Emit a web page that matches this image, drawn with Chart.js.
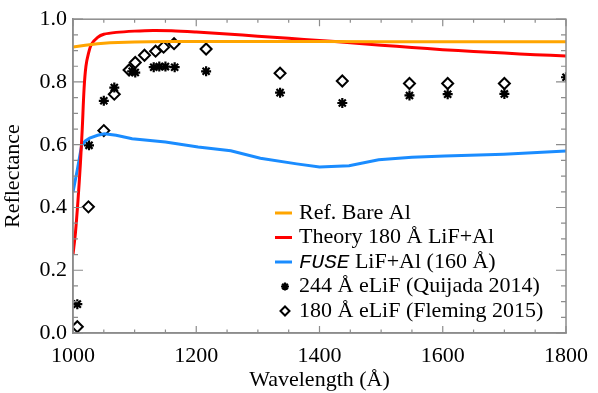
<!DOCTYPE html>
<html>
<head>
<meta charset="utf-8">
<script src="https://cdn.jsdelivr.net/npm/chart.js@4/dist/chart.umd.min.js"></script>
<style>
  html, body { margin: 0; padding: 0; background: #fff; }
  #wrap { width: 598px; height: 393px; }
</style>
</head>
<body>
<div id="wrap"><canvas id="chart"></canvas></div>
<script>
// reflectance curves (wavelength in Angstrom)
const bareAlWave = [1000, 1020, 1040, 1060, 1100, 1150, 1200, 1300, 1400, 1500, 1600, 1700, 1800];
const bareAlRefl = [0.911, 0.917, 0.922, 0.925, 0.927, 0.929, 0.929, 0.929, 0.929, 0.928, 0.928, 0.928, 0.928];

const theoryWave = [1000, 1004, 1008, 1012, 1015, 1018, 1021, 1025, 1030, 1040, 1050, 1070, 1100, 1130, 1160, 1200, 1250, 1300, 1350, 1400, 1450, 1500, 1550, 1600, 1650, 1700, 1750, 1800];
const theoryRefl = [0.25, 0.32, 0.42, 0.54, 0.65, 0.78, 0.85, 0.89, 0.92, 0.942, 0.952, 0.958, 0.962, 0.964, 0.963, 0.959, 0.953, 0.946, 0.939, 0.932, 0.925, 0.917, 0.910, 0.903, 0.897, 0.892, 0.887, 0.883];

const fuseWave = [1000, 1007, 1014, 1020, 1027, 1040, 1051, 1070, 1096, 1150, 1203, 1256, 1304, 1363, 1400, 1448, 1496, 1550, 1603, 1699, 1800];
const fuseRefl = [0.449, 0.52, 0.598, 0.612, 0.621, 0.63, 0.635, 0.63, 0.619, 0.609, 0.593, 0.581, 0.557, 0.539, 0.529, 0.533, 0.552, 0.560, 0.564, 0.570, 0.580];

// measured samples
const quijadaWave = [1007, 1026, 1050, 1067, 1096, 1101, 1131, 1140, 1150, 1165, 1216, 1336, 1437, 1546, 1608, 1700, 1800];
const quijadaRefl = [0.092, 0.598, 0.740, 0.782, 0.834, 0.830, 0.847, 0.849, 0.849, 0.847, 0.834, 0.766, 0.733, 0.757, 0.761, 0.762, 0.815];

const flemingWave = [1007, 1025, 1050, 1067, 1091, 1101, 1116, 1134, 1147, 1164, 1216, 1336, 1437, 1546, 1608, 1700];
const flemingRefl = [0.02, 0.402, 0.645, 0.761, 0.838, 0.862, 0.885, 0.898, 0.911, 0.922, 0.905, 0.828, 0.803, 0.795, 0.795, 0.795];

const xTicks = [1000, 1200, 1400, 1600, 1800];
const yTicks = [0.0, 0.2, 0.4, 0.6, 0.8, 1.0];

const legendLabels = [
    'Ref. Bare Al',
    'Theory 180 Å LiF+Al',
    'FUSE LiF+Al (160 Å)',
    '244 Å eLiF (Quijada 2014)',
    '180 Å eLiF (Fleming 2015)'
];

const serif = '"Liberation Serif", "DejaVu Serif", serif';
const axisGray = '#8c8c8c';

function toPoints(xs, ys) {
    return xs.map((x, i) => ({ x: x, y: ys[i] }));
}

// IDL-style inward ticks on all four sides + frame
const frameTicks = {
    id: 'frameTicks',
    afterDraw(chart) {
        const ctx = chart.ctx;
        const a = chart.chartArea;
        const xs = chart.scales.x;
        const ys = chart.scales.y;
        ctx.save();
        ctx.strokeStyle = axisGray;
        ctx.lineWidth = 1.5;
        ctx.strokeRect(a.left, a.top, a.right - a.left, a.bottom - a.top);
        ctx.lineWidth = 1.2;
        ctx.beginPath();
        for (let v = xs.min; v <= xs.max + 1e-6; v += 50) {
            const px = xs.getPixelForValue(v);
            const len = (v % 200 === 0) ? 7 : 3.5;
            ctx.moveTo(px, a.bottom); ctx.lineTo(px, a.bottom - len);
            ctx.moveTo(px, a.top); ctx.lineTo(px, a.top + len);
        }
        for (let i = 0; i <= 20; i++) {
            const v = i * 0.05;
            const py = ys.getPixelForValue(v);
            const len = (i % 4 === 0) ? 10 : 5;
            ctx.moveTo(a.left, py); ctx.lineTo(a.left + len, py);
            ctx.moveTo(a.right, py); ctx.lineTo(a.right - len, py);
        }
        ctx.stroke();
        ctx.restore();
    }
};

// legend inside the plot, lower right
const insideLegend = {
    id: 'insideLegend',
    afterDraw(chart) {
        const ctx = chart.ctx;
        const x0 = 275, textX = 299;
        let y = 213;
        ctx.save();
        ctx.textBaseline = 'middle';
        chart.data.datasets.forEach((ds, i) => {
            if (ds.showLine) {
                ctx.strokeStyle = ds.borderColor;
                ctx.lineWidth = 3;
                ctx.beginPath();
                ctx.moveTo(x0, y); ctx.lineTo(x0 + 17, y);
                ctx.stroke();
            } else {
                ctx.fillStyle = ds.backgroundColor;
                ctx.strokeStyle = ds.borderColor;
                ctx.lineWidth = ds.borderWidth;
                Chart.helpers.drawPoint(ctx, {
                    pointStyle: ds.pointStyle,
                    radius: ds.pointRadius - 1,
                    borderWidth: ds.borderWidth,
                    rotation: 0
                }, x0 + 10, y);
            }
            ctx.fillStyle = '#000';
            const label = legendLabels[i];
            if (label.startsWith('FUSE')) {
                ctx.font = 'italic 21px "Liberation Mono", "DejaVu Sans Mono", monospace';
                ctx.fillText('FUSE', textX, y);
                const w = ctx.measureText('FUSE').width;
                ctx.font = '22px ' + serif;
                ctx.fillText(label.slice(4), textX + w, y);
            } else {
                ctx.font = '22px ' + serif;
                ctx.fillText(label, textX, y);
            }
            y += 24.5;
        });
        ctx.restore();
    }
};

new Chart(document.getElementById('chart'), {
    type: 'scatter',
    data: {
        datasets: [
            {
                label: legendLabels[0],
                data: toPoints(bareAlWave, bareAlRefl),
                showLine: true,
                borderColor: '#ffa500',
                borderWidth: 3,
                pointRadius: 0,
                tension: 0
            },
            {
                label: legendLabels[1],
                data: toPoints(theoryWave, theoryRefl),
                showLine: true,
                borderColor: '#ff0000',
                borderWidth: 3,
                pointRadius: 0,
                tension: 0.3
            },
            {
                label: legendLabels[2],
                data: toPoints(fuseWave, fuseRefl),
                showLine: true,
                borderColor: '#1a8cff',
                borderWidth: 3,
                pointRadius: 0,
                tension: 0
            },
            {
                label: legendLabels[3],
                data: toPoints(quijadaWave, quijadaRefl),
                showLine: false,
                pointStyle: 'star',
                pointRadius: 5,
                borderColor: '#000',
                backgroundColor: '#000',
                borderWidth: 2.2,
                clip: 0
            },
            {
                label: legendLabels[4],
                data: toPoints(flemingWave, flemingRefl),
                showLine: false,
                pointStyle: 'rectRot',
                pointRadius: 5.5,
                borderColor: '#000',
                backgroundColor: '#fff',
                borderWidth: 2,
                clip: 0
            }
        ]
    },
    options: {
        responsive: true,
        maintainAspectRatio: false,
        animation: false,
        layout: { padding: { top: 10, right: 25, left: 0, bottom: 0 } },
        plugins: {
            legend: { display: false },
            tooltip: { enabled: false }
        },
        scales: {
            x: {
                type: 'linear',
                min: 1000,
                max: 1800,
                afterBuildTicks: (scale) => { scale.ticks = xTicks.map(v => ({ value: v })); },
                afterFit: (scale) => { scale.height = 60; },
                grid: { display: false, drawTicks: false },
                border: { display: true, color: axisGray, width: 1.5 },
                ticks: {
                    color: '#000',
                    font: { family: serif, size: 22 },
                    padding: 10,
                    maxRotation: 0,
                    callback: (v) => String(v)
                },
                title: {
                    display: true,
                    text: 'Wavelength (Å)',
                    color: '#000',
                    font: { family: serif, size: 22 },
                    padding: { top: 0, bottom: 0 }
                }
            },
            y: {
                min: 0,
                max: 1,
                afterBuildTicks: (scale) => { scale.ticks = yTicks.map(v => ({ value: v })); },
                afterFit: (scale) => { scale.width = 73; },
                grid: { display: false, drawTicks: false },
                border: { display: true, color: axisGray, width: 1.5 },
                ticks: {
                    color: '#000',
                    font: { family: serif, size: 22 },
                    padding: 6,
                    callback: (v) => v.toFixed(1)
                },
                title: {
                    display: true,
                    text: 'Reflectance',
                    color: '#000',
                    font: { family: serif, size: 22 },
                    padding: { top: 0, bottom: 2 }
                }
            }
        }
    },
    plugins: [frameTicks, insideLegend]
});
</script>
</body>
</html>
